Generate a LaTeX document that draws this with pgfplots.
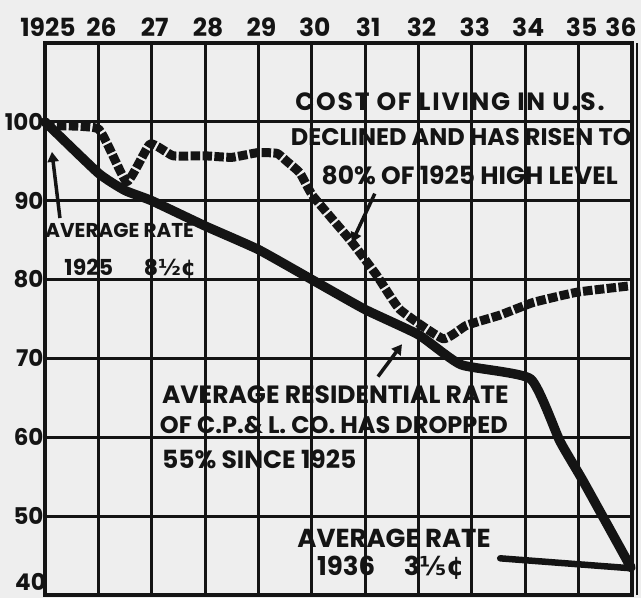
\documentclass[border=0pt]{standalone}
\usepackage{pgfplots}
\pgfplotsset{compat=1.18}
\usepackage{fontspec}
\setmainfont{Poppins}
\newfontfamily\djfont{DejaVu Sans}
\usetikzlibrary{backgrounds,arrows.meta}
\definecolor{paper}{HTML}{EEEEEE}
\definecolor{ink}{HTML}{141414}
\pgfplotstableread{
x y
1925.00 100.0
1926.00 93.5
1926.50 91.3
1927.00 90.0
1928.00 86.8
1929.00 83.8
1930.00 80.0
1931.00 76.2
1932.00 73.0
1932.80 69.2
1934.10 67.4
1934.65 59.5
1935.08 54.5
1935.98 43.5
}\rate
\pgfplotstableread{
x y
1925.00 99.5
1926.00 99.1
1926.53 92.4
1926.97 97.2
1927.40 95.7
1927.98 95.7
1928.50 95.5
1928.99 96.1
1929.35 96.0
1929.53 95.0
1929.78 93.5
1930.02 90.6
1930.72 85.0
1931.22 80.5
1931.65 76.2
1932.46 72.5
1932.90 74.2
1933.53 75.5
1934.15 77.1
1934.97 78.4
1935.96 79.2
}\cost
\begin{document}
\begin{tikzpicture}[show background rectangle,
  background rectangle/.style={fill=paper,draw=none}, inner frame sep=0pt]
\useasboundingbox (-45pt,-3pt) rectangle (596pt,595pt);
\begin{axis}[
  at={(0,0)}, anchor=south west,
  scale only axis, width=587pt, height=552pt,
  xmin=1925, xmax=1936, ymin=40, ymax=110,
  xtick={1925,...,1935},
  xticklabels={1925,26,27,28,29,30,31,32,33,34,35},
  extra x ticks={1936},
  extra x tick labels={36},
  extra x tick style={xticklabel style={xshift=-14pt}},
  xticklabel pos=top,
  ytick={50,60,70,80,90,100},
  yticklabels={50,60,70,80,90,100},
  extra y ticks={40},
  extra y tick labels={40},
  extra y tick style={yticklabel style={yshift=13pt, inner sep=1pt}},
  major tick length=0pt,
  grid=major,
  major grid style={ink, line width=3pt},
  axis line style={ink, line width=3.4pt},
  axis background/.style={fill=paper},
  xticklabel style={font=\fontsize{25}{25}\selectfont\bfseries, text=ink, yshift=3pt, xshift=3pt},
  yticklabel style={font=\fontsize{23}{23}\selectfont\bfseries, text=ink, xshift=2pt},
  clip=false,
]
\addplot[ink, line width=9.5pt, line join=round, line cap=round, smooth, tension=0.3] table[x=x,y=y]{\rate};
\addplot[ink, line width=9pt, line join=round, dash pattern=on 9.5pt off 2.4pt, smooth, tension=0.25] table[x=x,y=y]{\cost};
% annotations
\begin{scope}[every node/.style={font=\fontsize{25}{25}\selectfont\bfseries, text=ink, inner sep=0pt}]
\node at (axis cs:1932.59,102.5) {\addfontfeature{LetterSpace=7}COST OF LIVING IN U.S.};
\node[font=\fontsize{24}{24}\selectfont\bfseries] at (axis cs:1932.8,98.1) {DECLINED AND HAS RISEN TO};
\node at (axis cs:1932.96,93.2) {80\% OF 1925 HIGH LEVEL};
\node[font=\fontsize{20}{20}\selectfont\bfseries] at (axis cs:1926.4,86.2) {AVERAGE RATE};
\node[font=\fontsize{22}{22}\selectfont\bfseries] at (axis cs:1926.6,81.4) {1925\hspace{1.4em}8{\djfont\bfseries ½¢}};
\node[anchor=west] at (axis cs:1927.19,65.4) {AVERAGE RESIDENTIAL RATE};
\node[anchor=west, font=\fontsize{24}{24}\selectfont\bfseries] at (axis cs:1927.15,61.5) {OF C.P.\& L. CO. HAS DROPPED};
\node[anchor=west] at (axis cs:1927.19,57.2) {55\% SINCE 1925};
\node[font=\fontsize{26}{26}\selectfont\bfseries] at (axis cs:1931.54,47.2) {AVERAGE RATE};
\node[font=\fontsize{26}{26}\selectfont\bfseries] at (axis cs:1931.48,43.4) {1936\hspace{1.1em}3{\djfont\bfseries ⅕¢}};
\end{scope}
\draw[ink, line width=3.5pt, -{Triangle[length=10pt,width=11pt]}] (axis cs:1931.18,90.9) -- (axis cs:1930.75,84.7);
\draw[ink, line width=3.5pt, -{Triangle[length=10pt,width=11pt]}] (axis cs:1925.28,87.8) -- (axis cs:1925.13,96.2);
\draw[ink, line width=3.5pt, -{Triangle[length=10pt,width=11pt]}] (axis cs:1931.24,67.7) -- (axis cs:1931.69,71.8);
\draw[ink, line width=6.5pt, line cap=round] (axis cs:1933.53,44.65) -- (axis cs:1935.96,43.4);
\draw[ink, line width=2pt] ([xshift=5pt]current axis.south east) -- ([xshift=5pt]current axis.north east);
\end{axis}
\end{tikzpicture}
\end{document}
